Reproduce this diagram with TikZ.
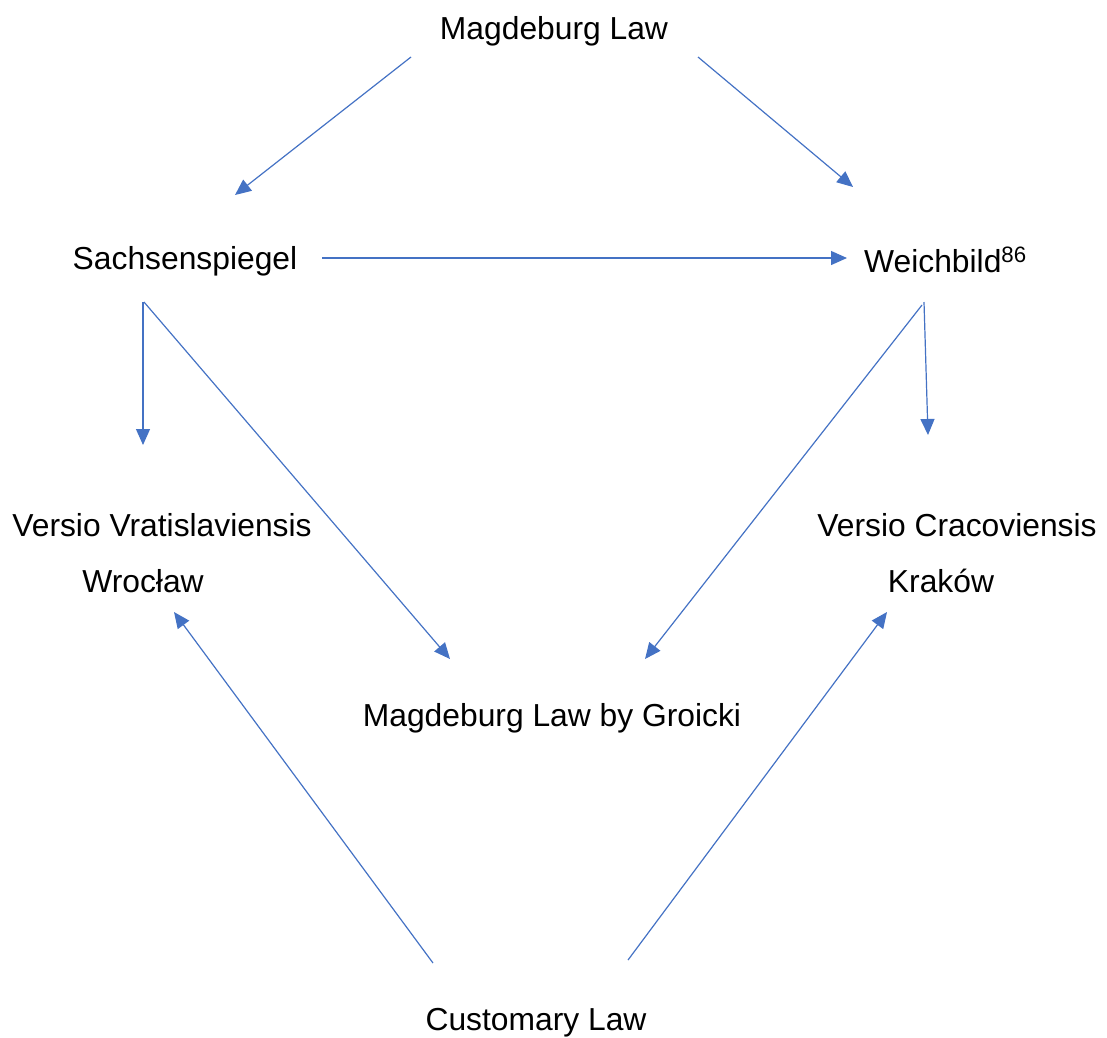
\documentclass[tikz,border=0pt]{standalone}
\usepackage{fontspec}
\setmainfont{Liberation Sans}
\usetikzlibrary{arrows.meta}
\definecolor{arrowblue}{HTML}{4472C4}
\begin{document}
\begin{tikzpicture}[x=1pt,y=-1pt,
  lbl/.style={inner sep=0pt,font=\fontsize{31.8}{38}\selectfont,text=black},
  conn/.style={draw=arrowblue,line width=1.2pt,-{Triangle[length=16pt,width=14pt,fill=arrowblue]}}]
\useasboundingbox (0,0) rectangle (1107,1037);
\node[lbl] (mag) at (554,31) {Magdeburg Law};
\node[lbl] (sach) at (185,261) {Sachsenspiegel};
\node[lbl,anchor=base west] (weich) at (864,272) {Weichbild\textsuperscript{86}};
\node[lbl] (vv) at (162,525) {Versio Vratislaviensis};
\node[lbl] (wro) at (143,581) {Wrocław};
\node[lbl] (vc) at (957,525) {Versio Cracoviensis};
\node[lbl] (kra) at (941,581) {Kraków};
\node[lbl] (gro) at (552,718) {Magdeburg Law by Groicki};
\node[lbl] (cus) at (536,1023) {Customary Law};
\coordinate (m1) at (411,57);
\coordinate (s1) at (235,195);
\coordinate (m2) at (698,57);
\coordinate (w1) at (853,187);
\coordinate (s2) at (322,258);
\coordinate (w2) at (847,258);
\coordinate (s3) at (143,302);
\coordinate (v1) at (143,445);
\coordinate (s4) at (144,302);
\coordinate (g1) at (450,659);
\coordinate (w3) at (922,305);
\coordinate (g2) at (645,659);
\coordinate (w4) at (924,302);
\coordinate (c1) at (928,435);
\coordinate (cu1) at (433,963);
\coordinate (wr1) at (174,612);
\coordinate (cu2) at (628,960);
\coordinate (kr1) at (887,612);
\draw[conn] (m1) -- (s1);
\draw[conn] (m2) -- (w1);
\draw[conn] (s2) -- (w2);
\draw[conn] (s3) -- (v1);
\draw[conn] (s4) -- (g1);
\draw[conn] (w3) -- (g2);
\draw[conn] (w4) -- (c1);
\draw[conn] (cu1) -- (wr1);
\draw[conn] (cu2) -- (kr1);
\end{tikzpicture}
\end{document}
